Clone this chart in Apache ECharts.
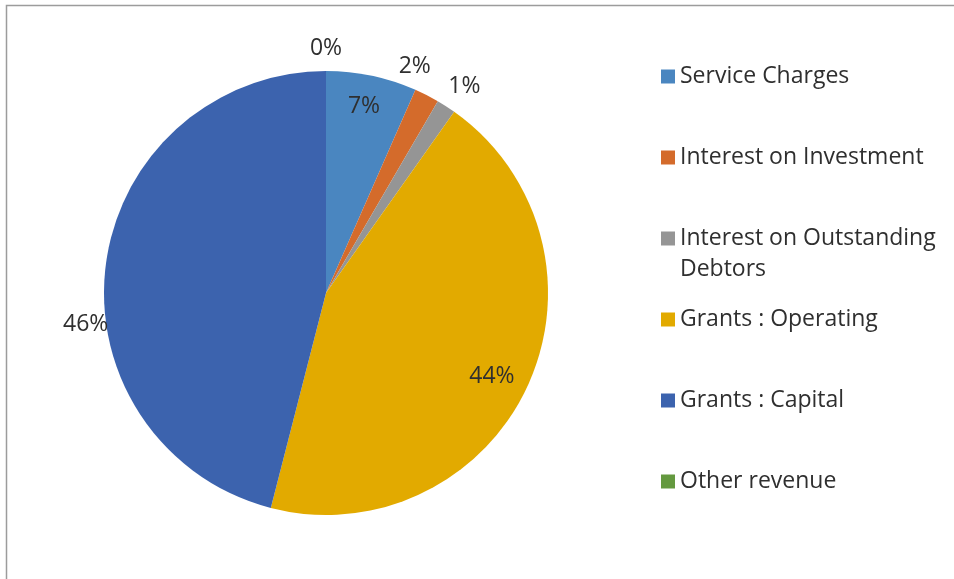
<!DOCTYPE html>
<html>
<head>
<meta charset="utf-8">
<title>Revenue by Source</title>
<script src="https://cdn.jsdelivr.net/npm/echarts@6/dist/echarts.min.js"></script>
<style>
  html, body { margin: 0; padding: 0; background: #fff; }
  #chart { width: 954px; height: 579px; }
</style>
</head>
<body>
<div id="chart"></div>
<script>
// Revenue sources and their share of total revenue (%)
const categories = [
  'Service Charges',
  'Interest on Investment',
  'Interest on Outstanding Debtors',
  'Grants : Operating',
  'Grants : Capital',
  'Other revenue'
];
const shares = [6.6, 1.8, 1.4, 44.2, 46.0, 0];
const colors = ['#4A86C0', '#D46B2B', '#959595', '#E2AA00', '#3C63AE', '#64993F'];

// Labels drawn inside the slice; the rest sit just outside the rim
const insideLabels = ['Service Charges', 'Grants : Operating'];
// Labels moved away from their slice's mid-angle (pixel nudges)
const labelNudge = {
  'Service Charges': [-1, -5],
  'Interest on Investment': [-24, -9],
  'Interest on Outstanding Debtors': [4, -2],
  'Grants : Capital': [6, 59],
  'Grants : Operating': [-6, 0]
};

const FONT = '"Open Sans", "Noto Sans", sans-serif';
const FONT_SIZE = 23;
const TEXT_COLOR = '#2f2f2f';
const LINE_H = 31;
const LEGEND_TEXT_W = 265;
const LABEL_BASELINE_DY = 4;

const CX = 326, CY = 293, R = 222;

// word-wrap legend names that do not fit the legend column
const measureCtx = document.createElement('canvas').getContext('2d');
measureCtx.font = FONT_SIZE + 'px ' + FONT;
function wrapName(name) {
  const words = name.split(' ');
  const lines = [];
  let cur = '';
  words.forEach(w => {
    const test = cur ? cur + ' ' + w : w;
    if (cur && measureCtx.measureText(test).width > LEGEND_TEXT_W) {
      lines.push(cur);
      cur = w;
    } else {
      cur = test;
    }
  });
  if (cur) lines.push(cur);
  return lines;
}
// every legend row is three lines tall with the name starting on the
// middle line, so the colour square lines up with the first text line
function legendText(name) {
  const lines = wrapName(name);
  const rows = [''].concat(lines);
  while (rows.length < 3) rows.push('');
  return rows.join('\n');
}

const pieData = categories.map((name, i) => ({
  name: name,
  value: shares[i],
  itemStyle: { color: colors[i] }
}));

function labelData(useInside) {
  return categories.map((name, i) => ({
    name: name,
    value: shares[i],
    label: { show: insideLabels.includes(name) === useInside }
  }));
}

function placeLabel(params) {
  const name = categories[params.dataIndex];
  const n = labelNudge[name] || [0, 0];
  return { dx: n[0], dy: n[1] + LABEL_BASELINE_DY };
}

const labelCommon = {
  position: 'inside',
  formatter: p => Math.round(p.percent) + '%',
  fontFamily: FONT,
  fontSize: FONT_SIZE,
  color: TEXT_COLOR
};

const chart = echarts.init(document.getElementById('chart'), null, { renderer: 'canvas' });
chart.setOption({
  animation: false,
  backgroundColor: '#ffffff',
  color: colors,
  graphic: [{
    type: 'rect',
    silent: true,
    shape: { x: 6.5, y: 5.5, width: 1000, height: 1000 },
    style: { fill: 'none', stroke: '#9c9c9c', lineWidth: 1.5 }
  }],
  legend: {
    orient: 'vertical',
    left: 661,
    top: 30,
    padding: 0,
    itemGap: 81 - 3 * LINE_H,
    itemWidth: 14,
    itemHeight: 14,
    icon: 'rect',
    selectedMode: false,
    data: categories,
    formatter: legendText,
    textStyle: {
      fontFamily: FONT,
      fontSize: FONT_SIZE,
      color: TEXT_COLOR,
      lineHeight: LINE_H
    }
  },
  series: [
    {
      name: 'Revenue',
      type: 'pie',
      center: [CX, CY],
      radius: [0, R],
      startAngle: 90,
      clockwise: true,
      avoidLabelOverlap: false,
      label: { show: false },
      labelLine: { show: false },
      emphasis: { disabled: true },
      itemStyle: { borderWidth: 0 },
      data: pieData
    },
    {
      // percentage labels inside the slices
      type: 'pie',
      silent: true,
      center: [CX, CY],
      radius: [R * 0.68, R],
      startAngle: 90,
      clockwise: true,
      avoidLabelOverlap: false,
      itemStyle: { color: 'rgba(0,0,0,0)', borderWidth: 0 },
      labelLine: { show: false },
      emphasis: { disabled: true },
      label: labelCommon,
      labelLayout: placeLabel,
      data: labelData(true)
    },
    {
      // percentage labels just outside the rim
      type: 'pie',
      silent: true,
      center: [CX, CY],
      radius: [R, R * 1.21],
      startAngle: 90,
      clockwise: true,
      avoidLabelOverlap: false,
      itemStyle: { color: 'rgba(0,0,0,0)', borderWidth: 0 },
      labelLine: { show: false },
      emphasis: { disabled: true },
      label: labelCommon,
      labelLayout: placeLabel,
      data: labelData(false)
    }
  ]
});
</script>
</body>
</html>
